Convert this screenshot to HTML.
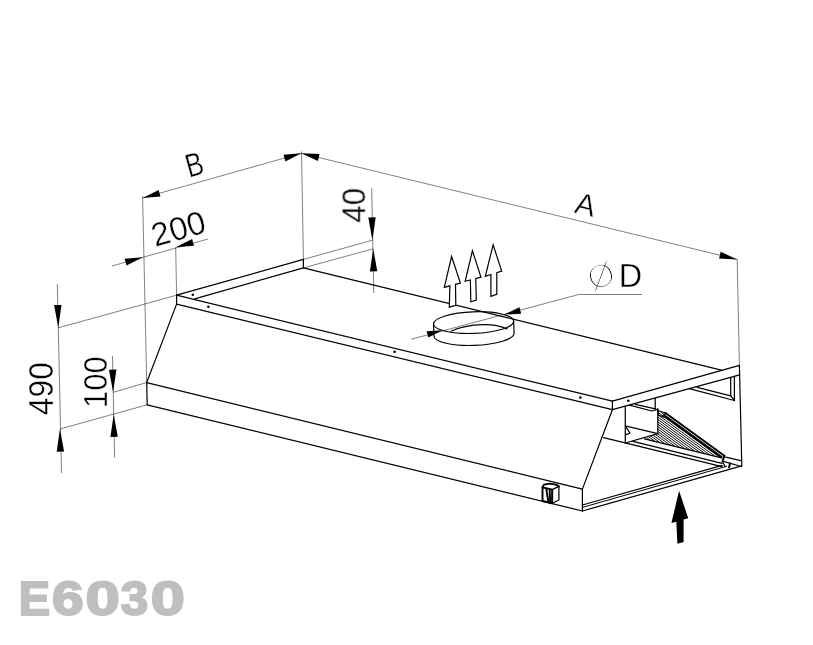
<!DOCTYPE html>
<html lang="en"><head><meta charset="utf-8"><title>E6030</title>
<style>
html,body{margin:0;padding:0;background:#fff;}
body{width:813px;height:645px;overflow:hidden;}
svg{display:block;}
.k{stroke:#000;stroke-width:1.2;fill:none;stroke-linecap:round;stroke-linejoin:round;}
.k2{stroke:#000;stroke-width:1;fill:none;}
.k3{stroke:#000;stroke-width:1.25;fill:none;stroke-linejoin:round;stroke-linecap:round;}
.kf{stroke:#000;stroke-width:1.9;fill:none;stroke-linejoin:round;stroke-linecap:round;}
.h{stroke:#000;stroke-width:0.95;fill:none;}
.t{stroke:#000;stroke-width:0.5;fill:none;}
.a{fill:#000;stroke:none;}
.d{fill:#000;stroke:none;}
.u{fill:#fff;stroke:#000;stroke-width:1.2;stroke-linejoin:miter;}
text{font-family:"Liberation Sans",sans-serif;fill:#000;}
.dim{font-size:33px;stroke:#fff;stroke-width:0.4px;}
.dia{font-family:"DejaVu Sans","Liberation Sans",sans-serif;font-weight:200;font-size:29.5px;stroke:#fff;stroke-width:0.8px;}
.code{font-family:"Liberation Sans",sans-serif;font-weight:bold;font-size:48px;fill:#bfbfbf;stroke:#bfbfbf;stroke-width:2px;stroke-linejoin:miter;}
</style></head>
<body>
<svg width="813" height="645" viewBox="0 0 813 645">
<rect width="813" height="645" fill="#fff"/>
<line class="t" x1="142.6" y1="196.3" x2="146.7" y2="382.5"/>
<line class="t" x1="142.6" y1="198.0" x2="301.4" y2="153.3"/>
<line class="t" x1="301.5" y1="151.5" x2="303.4" y2="259.4"/>
<line class="t" x1="301.4" y1="153.3" x2="737.2" y2="259.4"/>
<line class="t" x1="737.2" y1="259.4" x2="739.4" y2="365.4"/>
<line class="t" x1="112.0" y1="266.0" x2="208.0" y2="239.0"/>
<line class="t" x1="175.7" y1="247.3" x2="176.6" y2="295.2"/>
<line class="t" x1="57.3" y1="284.0" x2="61.5" y2="473.0"/>
<line class="t" x1="58.3" y1="327.8" x2="176.6" y2="295.2"/>
<line class="t" x1="59.9" y1="429.0" x2="147.2" y2="404.8"/>
<line class="t" x1="112.5" y1="356.0" x2="114.6" y2="457.6"/>
<line class="t" x1="113.1" y1="392.4" x2="146.7" y2="382.5"/>
<line class="t" x1="371.7" y1="188.3" x2="373.8" y2="293.0"/>
<line class="t" x1="303.4" y1="259.4" x2="372.4" y2="240.2"/>
<line class="t" x1="303.4" y1="267.9" x2="373.2" y2="248.8"/>
<polyline class="t" points="411.4,339.2 578.8,294.5 642.1,294.5"/>
<polygon class="a" points="142.6,198.0 160.5,196.6 158.6,189.9"/>
<polygon class="a" points="301.4,153.3 283.5,154.7 285.4,161.4"/>
<polygon class="a" points="301.4,153.3 317.9,160.9 319.5,154.1"/>
<polygon class="a" points="737.2,259.4 720.7,251.8 719.1,258.6"/>
<polygon class="a" points="142.9,257.3 124.6,258.8 126.5,265.5"/>
<polygon class="a" points="175.7,247.3 194.0,245.8 192.1,239.1"/>
<polygon class="a" points="58.3,327.8 61.5,304.9 54.1,305.1"/>
<polygon class="a" points="59.9,429.0 56.7,451.7 64.1,451.5"/>
<polygon class="a" points="113.1,392.2 116.4,369.5 109.0,369.7"/>
<polygon class="a" points="113.7,414.4 110.4,436.9 117.8,436.7"/>
<polygon class="a" points="372.4,240.2 375.7,217.3 368.3,217.5"/>
<polygon class="a" points="373.2,248.8 369.9,271.5 377.3,271.3"/>
<polygon class="a" points="442.5,330.3 426.6,331.3 428.4,337.5"/>
<polygon class="a" points="503.9,314.6 521.1,313.7 519.5,307.3"/>
<line class="k" x1="176.6" y1="295.2" x2="303.4" y2="259.4"/>
<line class="k" x1="194.7" y1="298.9" x2="303.4" y2="267.9"/>
<line class="k" x1="303.4" y1="259.4" x2="303.4" y2="267.9"/>
<line class="k" x1="176.6" y1="295.2" x2="176.6" y2="304.1"/>
<line class="k" x1="176.6" y1="295.2" x2="612.4" y2="401.2"/>
<line class="k" x1="176.6" y1="304.1" x2="612.4" y2="409.7"/>
<line class="k" x1="612.4" y1="401.2" x2="612.4" y2="409.7"/>
<line class="k" x1="303.4" y1="267.9" x2="721.4" y2="370.1"/>
<line class="k" x1="176.6" y1="304.1" x2="146.7" y2="382.5"/>
<line class="k" x1="146.7" y1="382.5" x2="147.2" y2="404.8"/>
<line class="k" x1="146.7" y1="382.6" x2="582.4" y2="489.1"/>
<line class="k" x1="147.2" y1="404.8" x2="582.4" y2="511.0"/>
<line class="k" x1="582.4" y1="489.1" x2="582.4" y2="511.0"/>
<line class="k" x1="612.4" y1="409.7" x2="582.4" y2="489.1"/>
<line class="k" x1="612.4" y1="401.2" x2="739.4" y2="365.4"/>
<line class="k" x1="612.4" y1="409.7" x2="738.8" y2="375.1"/>
<line class="k" x1="739.4" y1="365.4" x2="741.8" y2="465.8"/>
<line class="k" x1="582.4" y1="511.0" x2="741.8" y2="465.8"/>
<line class="k2" x1="582.4" y1="507.4" x2="727.0" y2="466.2"/>
<line class="k" x1="582.4" y1="505.0" x2="722.0" y2="465.4"/>
<polyline class="k3" points="689.2,388.7 734.4,400.5 734.4,376.4"/>
<polyline class="k3" points="697.2,387.3 730.7,395.8 730.7,377.5"/>
<line class="k3" x1="730.7" y1="395.8" x2="734.4" y2="400.5"/>
<clipPath id="fc"><polygon points="657.9,411.5 665.5,413.0 724.4,455.8 720.5,457.6 644.5,438.8 657.9,433.6"/></clipPath>
<g clip-path="url(#fc)">
<line class="h" x1="635.5" y1="393.6" x2="735.5" y2="466.3"/>
<line class="h" x1="635.5" y1="396.0" x2="735.5" y2="468.7"/>
<line class="h" x1="635.5" y1="398.4" x2="735.5" y2="471.1"/>
<line class="h" x1="635.5" y1="400.8" x2="735.5" y2="473.5"/>
<line class="h" x1="635.5" y1="403.2" x2="735.5" y2="475.9"/>
<line class="h" x1="635.5" y1="405.6" x2="735.5" y2="478.3"/>
<line class="h" x1="635.5" y1="408.0" x2="735.5" y2="480.7"/>
<line class="h" x1="635.5" y1="410.4" x2="735.5" y2="483.1"/>
<line class="h" x1="635.5" y1="412.8" x2="735.5" y2="485.5"/>
<line class="h" x1="635.5" y1="415.2" x2="735.5" y2="487.9"/>
<line class="h" x1="635.5" y1="417.6" x2="735.5" y2="490.3"/>
<line class="h" x1="635.5" y1="420.0" x2="735.5" y2="492.7"/>
<line class="h" x1="635.5" y1="422.4" x2="735.5" y2="495.1"/>
<line class="h" x1="635.5" y1="424.8" x2="735.5" y2="497.5"/>
<line class="h" x1="635.5" y1="427.2" x2="735.5" y2="499.9"/>
<line class="h" x1="635.5" y1="429.6" x2="735.5" y2="502.3"/>
<line class="h" x1="635.5" y1="432.0" x2="735.5" y2="504.7"/>
<line class="h" x1="635.5" y1="434.4" x2="735.5" y2="507.1"/>
<line class="h" x1="635.5" y1="436.8" x2="735.5" y2="509.5"/>
</g>
<line class="kf" x1="665.5" y1="413.0" x2="724.4" y2="455.8"/>
<line class="kf" x1="663.6" y1="415.6" x2="721.5" y2="457.6"/>
<line class="k3" x1="644.5" y1="438.8" x2="720.5" y2="457.6"/>
<polygon class="k3" points="657.9,410.5 665.5,413.0 663.5,417.0 658.5,415.0"/>
<line class="k3" x1="625.3" y1="406.2" x2="625.3" y2="443.0"/>
<line class="k3" x1="657.8" y1="408.8" x2="657.8" y2="433.7"/>
<line class="k3" x1="655.2" y1="398.4" x2="655.2" y2="408.8"/>
<polyline class="k3" points="629.5,405.2 651.7,411.0 657.8,409.1"/>
<line class="k3" x1="635.3" y1="404.3" x2="655.4" y2="408.8"/>
<line class="k3" x1="625.3" y1="425.9" x2="657.8" y2="433.7"/>
<line class="k3" x1="625.3" y1="443.0" x2="657.8" y2="433.7"/>
<polyline class="k3" points="626.0,427.2 630.0,433.0 626.0,434.6"/>
<line class="k3" x1="603.6" y1="437.6" x2="722.0" y2="466.6"/>
<line class="k3" x1="633.0" y1="441.3" x2="722.0" y2="463.4"/>
<line class="k3" x1="725.7" y1="457.2" x2="740.8" y2="460.6"/>
<line class="k3" x1="722.5" y1="461.2" x2="741.4" y2="466.5"/>
<line class="kf" x1="724.4" y1="455.8" x2="722.5" y2="461.5"/>
<line class="k3" x1="722.5" y1="461.5" x2="725.0" y2="466.5"/>
<line class="kf" x1="730.0" y1="463.5" x2="729.0" y2="467.5"/>
<polygon class="kf" points="542.5,487.3 552.2,489.6 552.2,503.2 542.5,501.0"/>
<polygon class="k3" points="552.2,489.6 558.9,486.4 558.9,500.0 552.2,503.2"/>
<polyline class="kf" points="542.5,487.3 544.0,484.6 549.6,483.6 556.0,484.6 558.9,486.4"/>
<line class="kf" x1="546.3" y1="488.8" x2="548.3" y2="501.5"/>
<line class="kf" x1="549.6" y1="489.2" x2="550.2" y2="502.0"/>
<circle class="d" cx="192.8" cy="294.7" r="1.3"/>
<circle class="d" cx="208.4" cy="306.8" r="1.3"/>
<circle class="d" cx="394.6" cy="351.7" r="1.3"/>
<circle class="d" cx="580.3" cy="397.6" r="1.3"/>
<circle class="d" cx="628.3" cy="400.8" r="1.3"/>
<g transform="rotate(-2 473.8 328.6)">
<clipPath id="rc"><ellipse cx="473.8" cy="322.6" rx="40.1" ry="10.8"/></clipPath>
<path class="k" d="M451,330.4 C461,326 473,324.8 483,324.9 C493,325 501,327 507,330"/>
<path class="k" d="M433.7,322.6 L433.7,334.6 A40.1,10.8 0 0 0 513.9,334.6 L513.9,322.6"/>
<ellipse class="k" cx="473.8" cy="322.6" rx="40.1" ry="10.8"/>
</g>
<polygon class="u" points="451.6,256.5 460.4,283.0 455.5,284.3 455.8,305.3 449.3,307.1 449.9,285.8 444.3,287.3"/>
<polygon class="u" points="472.4,250.7 481.0,277.2 475.8,278.5 476.3,300.0 470.8,301.8 470.4,280.0 465.2,281.3"/>
<polygon class="u" points="493.1,244.8 501.7,271.0 496.8,272.6 496.8,294.4 490.9,296.4 490.9,274.5 485.3,276.3"/>
<polygon class="a" points="679.1,490.7 688.2,518.2 683.6,519.5 683.6,541.9 677.4,543.7 676.3,521.7 671.4,523.1"/>
<g opacity="0.999">
<text class="dim" transform="translate(188.9,177.8) rotate(-15.5) scale(0.79,1)" style="font-size:33px">B</text>
<text class="dim" transform="translate(155,247) rotate(-16)">200</text>
<text class="dim" transform="translate(593,217.3) rotate(13.5)" text-anchor="end" style="font-size:30.6px">A</text>
<text class="dia" transform="translate(601.1,275.9) rotate(-25.5) scale(1.227,1) translate(-11.61,10.74)">Ø</text>
<text class="dim" x="618.8" y="287.3" style="font-size:32.4px">D</text>
<text class="dim" transform="translate(53.1,415.2) rotate(-90) scale(0.965,1.04)">490</text>
<text class="dim" transform="translate(106.8,408) rotate(-90) scale(0.94,1.03)">100</text>
<text class="dim" transform="translate(365.2,222.8) rotate(-90) scale(0.95,1.03)">40</text>
<text class="code" y="615.1"><tspan x="18.66" textLength="31.27" lengthAdjust="spacingAndGlyphs">E</tspan><tspan x="52.02" textLength="31.64" lengthAdjust="spacingAndGlyphs">6</tspan><tspan x="85.46" textLength="34.26" lengthAdjust="spacingAndGlyphs">0</tspan><tspan x="120.77" textLength="27.41" lengthAdjust="spacingAndGlyphs">3</tspan><tspan x="150.88" textLength="34.03" lengthAdjust="spacingAndGlyphs">0</tspan></text>
</g>
</svg>
</body></html>
